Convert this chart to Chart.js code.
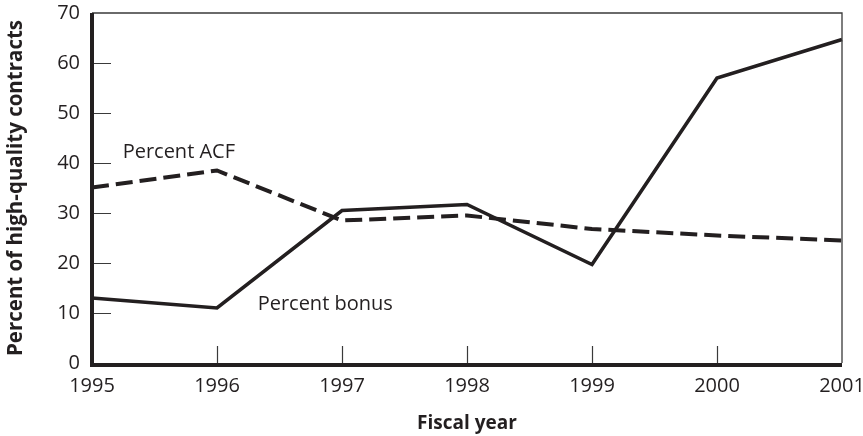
<!DOCTYPE html>
<html>
<head>
<meta charset="utf-8">
<script src="https://cdn.jsdelivr.net/npm/chart.js@4.4.1/dist/chart.umd.min.js"></script>
<style>
  html, body { margin: 0; padding: 0; background: #ffffff; }
  canvas { display: block; }
</style>
</head>
<body>
<canvas id="c" width="863" height="436"></canvas>
<script>
// ---- data ----
const years = ['1995', '1996', '1997', '1998', '1999', '2000', '2001'];
const percentBonus = [13, 11, 30.5, 31.7, 19.7, 57, 64.7];
const percentACF = [35.1, 38.5, 28.5, 29.5, 26.8, 25.5, 24.5];
const yTicks = [0, 10, 20, 30, 40, 50, 60, 70];
const seriesLabels = ['Percent bonus', 'Percent ACF'];

// ---- layout / style ----
const INK = '#231f20';
const FONT = "'Open Sans', 'Noto Sans', sans-serif";
// label anchors in data units (category index, value)
const labelAnchors = [
  { text: seriesLabels[1], x: 0.245, y: 41.0 },
  { text: seriesLabels[0], x: 1.325, y: 10.6 }
];

const framePlugin = {
  id: 'frame',
  afterDatasetsDraw(chart) {
    const { ctx, chartArea: a, scales } = chart;
    const xs = scales.x, ys = scales.y;
    ctx.save();
    ctx.strokeStyle = '#3a3a3a';
    ctx.lineWidth = 1.3;
    ctx.beginPath();
    ctx.moveTo(a.left, a.top);
    ctx.lineTo(a.right, a.top);
    ctx.lineTo(a.right, a.bottom);
    ctx.stroke();
    ctx.lineWidth = 1.2;
    ctx.beginPath();
    yTicks.forEach(v => {
      if (v === 0 || v === 70) return;
      const py = Math.round(ys.getPixelForValue(v)) + 0.5;
      ctx.moveTo(a.left, py);
      ctx.lineTo(a.left + 19, py);
    });
    years.forEach((_, i) => {
      if (i === 0 || i === years.length - 1) return;
      const px = Math.round(xs.getPixelForValue(i)) + 0.5;
      ctx.moveTo(px, a.bottom);
      ctx.lineTo(px, a.bottom - 17);
    });
    ctx.stroke();
    ctx.strokeStyle = INK;
    ctx.lineWidth = 4;
    ctx.beginPath();
    ctx.moveTo(a.left, a.top);
    ctx.lineTo(a.left, a.bottom + 4);
    ctx.moveTo(a.left - 2, a.bottom + 2);
    ctx.lineTo(a.right, a.bottom + 2);
    ctx.stroke();
    ctx.fillStyle = INK;
    ctx.font = '20px ' + FONT;
    ctx.textAlign = 'left';
    ctx.textBaseline = 'alphabetic';
    labelAnchors.forEach(l => {
      ctx.fillText(l.text, xs.getPixelForValue(l.x), ys.getPixelForValue(l.y));
    });
    ctx.restore();
  }
};

new Chart(document.getElementById('c'), {
  type: 'line',
  data: {
    labels: years,
    datasets: [
      {
        label: seriesLabels[0],
        data: percentBonus,
        borderColor: INK,
        borderWidth: 3.6,
        pointRadius: 0,
        tension: 0,
        fill: false,
        borderJoinStyle: 'miter'
      },
      {
        label: seriesLabels[1],
        data: percentACF,
        borderColor: INK,
        borderWidth: 4,
        borderDash: [17, 7],
        pointRadius: 0,
        tension: 0,
        fill: false,
        borderJoinStyle: 'miter'
      }
    ]
  },
  options: {
    responsive: false,
    animation: false,
    devicePixelRatio: 1,
    layout: { padding: { top: 13, right: 21, left: 0, bottom: 0 } },
    plugins: { legend: { display: false }, tooltip: { enabled: false } },
    scales: {
      x: {
        type: 'category',
        offset: false,
        grid: { display: false, drawTicks: false },
        border: { display: false },
        ticks: {
          color: INK,
          font: { family: FONT, size: 20 },
          padding: 11,
          maxRotation: 0,
          autoSkip: false
        },
        title: {
          display: true,
          text: 'Fiscal year',
          color: INK,
          font: { family: FONT, size: 19, weight: 'bold' },
          padding: { top: 0, bottom: 1 }
        },
        afterFit(s) { s.height = 73; s.paddingLeft = 0; s.paddingRight = 0; }
      },
      y: {
        min: 0,
        max: 70,
        afterBuildTicks(s) { s.ticks = yTicks.map(v => ({ value: v })); },
        grid: { display: false, drawTicks: false },
        border: { display: false },
        ticks: {
          color: INK,
          font: { family: FONT, size: 20 },
          padding: 12
        },
        title: {
          display: true,
          text: 'Percent of high-quality contracts',
          color: INK,
          font: { family: FONT, size: 20.5, weight: 'bold' },
          padding: { top: 4, bottom: 0 }
        },
        afterFit(s) { s.width = 92; s.paddingTop = 0; s.paddingBottom = 0; }
      }
    }
  },
  plugins: [framePlugin]
});
</script>
</body>
</html>
